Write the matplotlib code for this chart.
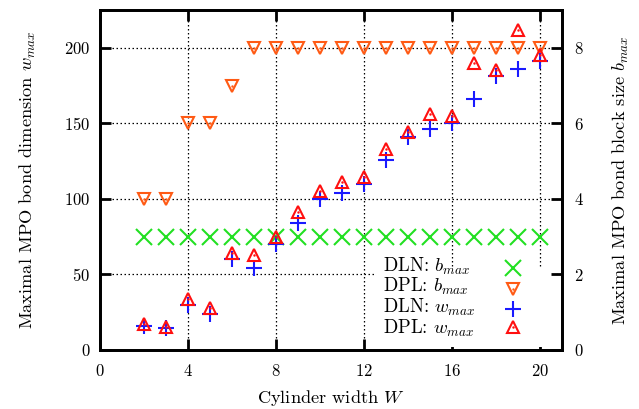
import matplotlib
matplotlib.use("Agg")
import matplotlib.pyplot as plt
from matplotlib.patches import Rectangle

plt.rcParams['font.family'] = ['cmr10', 'DejaVu Serif']
plt.rcParams['mathtext.fontset'] = 'cm'
plt.rcParams['axes.unicode_minus'] = False
plt.rcParams['axes.formatter.use_mathtext'] = True

W = list(range(2, 21))
dln_bmax = [3] * 19
dpl_bmax = [4, 4, 6, 6, 7, 8, 8, 8, 8, 8, 8, 8, 8, 8, 8, 8, 8, 8, 8]
dln_wmax = [16, 14.5, 30, 24, 60, 54, 70, 84, 100, 104, 110, 126, 141, 146, 150, 166, 181, 186, 191]
dpl_wmax = [17.5, 15, 33.5, 28, 64, 63, 75, 91, 105, 111, 114.5, 133, 144, 156, 155, 190, 185, 212, 195]

x_ticks = [0, 4, 8, 12, 16, 20]
left_ticks = [0, 50, 100, 150, 200]
right_ticks = [0, 2, 4, 6, 8]
legend_labels = ['DLN: $b_{max}$', 'DPL: $b_{max}$', 'DLN: $w_{max}$', 'DPL: $w_{max}$']

fig = plt.figure(figsize=(6.39, 4.09), dpi=100)
ax = fig.add_axes([100/639, 1-350/409, 462/639, 340/409])
ax2 = ax.twinx()

green = '#22e022'
orange = '#ff5a14'
blue = '#1a1aff'
red = '#ff0f0f'

ms_x = 11
ms_t = 9

ax.set_xlim(0, 21)
ax.set_ylim(0, 225)
ax2.set_ylim(0, 9)

ax.set_xticks(x_ticks)
ax.set_yticks(left_ticks)
ax2.set_yticks(right_ticks)

for xv in x_ticks[1:]:
    ax.axvline(xv, color='black', ls=(0, (1.2, 2)), lw=0.9, zorder=0)
for yv in left_ticks[1:]:
    ax.axhline(yv, color='black', ls=(0, (1.2, 2)), lw=0.9, zorder=0)

styles = [
    dict(marker='x', ms=ms_x, mew=1.5, color=green),
    dict(marker='v', ms=ms_t, mew=1.5, mfc='none', mec=orange),
    dict(marker='+', ms=ms_x, mew=1.5, color=blue),
    dict(marker='^', ms=ms_t, mew=1.5, mfc='none', mec=red),
]
dots = [None, orange, None, red]
series = [dln_bmax, dpl_bmax, [v/25 for v in dln_wmax], [v/25 for v in dpl_wmax]]

# legend background (white box hiding grid)
ax2.add_patch(Rectangle((375/462 - 100/462, (350-347)/340), 180/462, 80/340,
                        transform=ax2.transAxes, facecolor='white', edgecolor='none',
                        zorder=1.5))

for ys, st, dc in zip(series, styles, dots):
    ax2.plot(W, ys, ls='none', zorder=2, **st)
    if dc:
        ax2.plot(W, ys, ls='none', marker='.', ms=1.5, color=dc, zorder=2)

# manual legend (left-aligned labels, markers on right)
leg_text_x = (383 - 100) / 462
leg_mark_x = (513 - 100) / 462
leg_y = [(350 - 272) / 340, (350 - 292) / 340, (350 - 313) / 340, (350 - 334) / 340]
mark_y = [(350 - 272) / 340, (350 - 293) / 340, (350 - 313) / 340, (350 - 331) / 340]
for lab, st, dc, ty, my in zip(legend_labels, styles, dots, leg_y, mark_y):
    ax2.text(leg_text_x, ty, lab, transform=ax2.transAxes, ha='left', va='baseline',
             fontsize=13.5, zorder=3)
    ax2.plot([leg_mark_x], [my + 0.012], transform=ax2.transAxes, ls='none',
             clip_on=False, zorder=3, **st)
    if dc:
        ax2.plot([leg_mark_x], [my + 0.012], transform=ax2.transAxes, ls='none',
                 marker='.', ms=1.5, color=dc, clip_on=False, zorder=3)

for a in (ax, ax2):
    for s in a.spines.values():
        s.set_linewidth(2)
ax.tick_params(axis='y', direction='in', length=8, width=2, labelsize=12, pad=7)
ax.tick_params(axis='x', direction='in', length=8, width=2, top=True, labelsize=12, pad=9)
ax2.tick_params(axis='y', direction='in', length=8, width=2, labelsize=12, pad=9)

ax.set_xlabel('Cylinder width $W$', fontsize=13.2, labelpad=7)
ax.set_ylabel('Maximal MPO bond dimension $w_{max}$', fontsize=13.2, labelpad=19)
ax2.set_ylabel('Maximal MPO bond block size $b_{max}$', fontsize=13.2, labelpad=19)

fig.savefig('out.png', dpi=100)
